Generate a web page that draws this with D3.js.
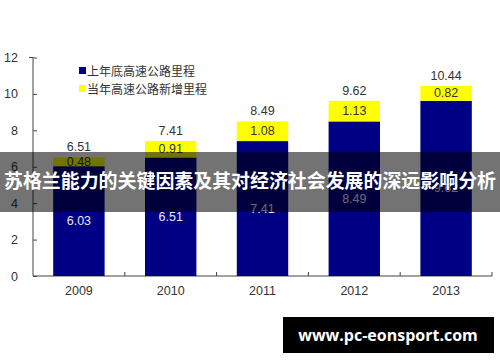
<!DOCTYPE html>
<html>
<head>
<meta charset="utf-8">
<script src="https://cdn.jsdelivr.net/npm/d3@7"></script>
<style>
  body { margin: 0; background: #fff; }
  svg { display: block; }
</style>
</head>
<body>
<script>
// data (unit: 10k km)
var years = ["2009", "2010", "2011", "2012", "2013"];
var baseVals = [6.03, 6.51, 7.41, 8.49, 9.62];
var newVals = [0.48, 0.91, 1.08, 1.13, 0.82];
var totals = [6.51, 7.41, 8.49, 9.62, 10.44];
var yTicks = [0, 2, 4, 6, 8, 10, 12];
var seriesNames = ["上年底高速公路里程", "当年高速公路新增里程"];
var title = "苏格兰能力的关键因素及其对经济社会发展的深远影响分析";
var site = "www.pc-eonsport.com";

var W = 500, H = 362;
var navy = "#000085", yellow = "#ffff00";
var latin = "'Liberation Sans', Arial, sans-serif";
var cjk = "'Noto Sans CJK SC', sans-serif";

var svg = d3.select("body").append("svg").attr("width", W).attr("height", H);

var x = d3.scaleBand().domain(years).range([33, 492]).paddingInner(0.44).paddingOuter(0.22);
var y = d3.scaleLinear().domain([0, 12]).range([276, 57.5]);

// y axis
var yAxis = svg.append("g").attr("transform", "translate(33,0)")
  .call(d3.axisLeft(y).tickValues(yTicks).tickSize(-4).tickPadding(15).tickFormat(d3.format("d")));
yAxis.select(".domain").attr("d", "M-4," + y(12) + "H0V" + y(0));
yAxis.selectAll("text").attr("font-family", latin).attr("font-size", 12.5).attr("fill", "#333");
yAxis.selectAll("line, path").attr("stroke", "#444");

// x axis with ticks between categories
var bounds = d3.range(years.length + 1).map(function(i){ return 33 + i * (459 / years.length); });
var xAxis = svg.append("g");
xAxis.append("line").attr("x1", 33).attr("x2", 492).attr("y1", y(0)).attr("y2", y(0)).attr("stroke", "#444");
xAxis.selectAll("line.tk").data(bounds.slice(1)).enter().append("line").attr("class", "tk")
  .attr("x1", d => d).attr("x2", d => d).attr("y1", y(0)).attr("y2", y(0) - 4).attr("stroke", "#444");
xAxis.selectAll("text").data(years).enter().append("text")
  .attr("x", d => x(d) + x.bandwidth() / 2).attr("y", 295)
  .attr("text-anchor", "middle").attr("font-family", latin).attr("font-size", 12.5).attr("fill", "#333")
  .text(d => d);

var g = svg.selectAll("g.bar").data(years).enter().append("g").attr("class", "bar");

g.append("rect")
  .attr("x", d => x(d)).attr("width", x.bandwidth())
  .attr("y", (d, i) => y(baseVals[i])).attr("height", (d, i) => y(0) - y(baseVals[i]))
  .attr("fill", navy);

g.append("rect")
  .attr("x", d => x(d)).attr("width", x.bandwidth())
  .attr("y", (d, i) => y(totals[i])).attr("height", (d, i) => y(baseVals[i]) - y(totals[i]))
  .attr("fill", yellow);

g.append("text")
  .attr("x", d => x(d) + x.bandwidth() / 2).attr("y", (d, i) => y(baseVals[i] / 2) + 4)
  .attr("text-anchor", "middle").attr("font-family", latin).attr("font-size", 12.5).attr("fill", "#e8e8f4")
  .text((d, i) => baseVals[i].toFixed(2));

g.append("text")
  .attr("x", d => x(d) + x.bandwidth() / 2).attr("y", (d, i) => y(baseVals[i] + newVals[i] / 2) + 4)
  .attr("text-anchor", "middle").attr("font-family", latin).attr("font-size", 12.5).attr("fill", "#333")
  .text((d, i) => newVals[i].toFixed(2));

g.append("text")
  .attr("x", d => x(d) + x.bandwidth() / 2).attr("y", (d, i) => y(totals[i]) - 6)
  .attr("text-anchor", "middle").attr("font-family", latin).attr("font-size", 12.5).attr("fill", "#333")
  .text((d, i) => totals[i].toFixed(2));

// legend
var leg = svg.selectAll("g.leg").data(seriesNames).enter().append("g").attr("class", "leg")
  .attr("transform", (d, i) => "translate(79," + (71 + i * 18) + ")");
leg.append("rect").attr("x", 0).attr("y", -4).attr("width", 7).attr("height", 7)
  .attr("fill", (d, i) => i ? yellow : navy);
leg.append("text").attr("x", 8).attr("y", 5).attr("font-family", cjk).attr("font-size", 12).attr("fill", "#333")
  .text(d => d);

// overlay band with title
svg.append("rect").attr("x", 0).attr("y", 152).attr("width", W).attr("height", 60)
  .attr("fill", "#000").attr("opacity", 0.55);
svg.append("text").attr("x", W / 2).attr("y", 188).attr("text-anchor", "middle")
  .attr("font-family", cjk).attr("font-weight", "bold").attr("font-size", 19).attr("fill", "#fff")
  .attr("textLength", 492).attr("lengthAdjust", "spacingAndGlyphs")
  .text(title);

// site badge
svg.append("rect").attr("x", 283).attr("y", 317).attr("width", 211).attr("height", 36).attr("fill", "#000");
svg.append("text").attr("x", 388).attr("y", 341).attr("text-anchor", "middle")
  .attr("font-family", "'Open Sans', sans-serif").attr("font-weight", "bold").attr("font-size", 16).attr("fill", "#fff")
  .text(site);
</script>
</body>
</html>
